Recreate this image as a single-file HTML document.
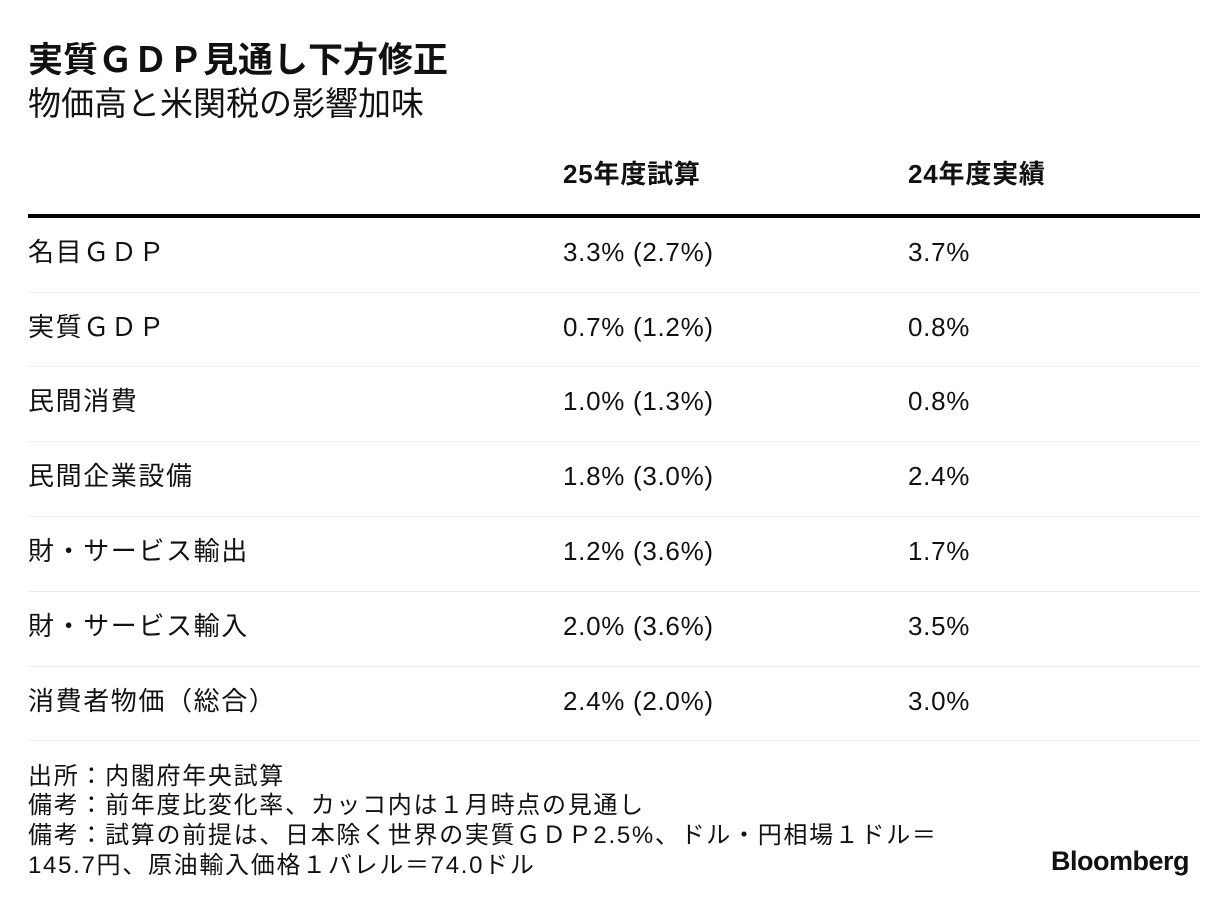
<!DOCTYPE html>
<html><head><meta charset="utf-8"><style>
body{margin:0;width:1229px;height:908px;background:#fff;position:relative;overflow:hidden;font-family:"Liberation Sans","Noto Sans CJK JP",sans-serif;color:#111}
div{position:absolute;white-space:nowrap;line-height:1}
.r{font-size:26px;letter-spacing:0.7px}
.l{letter-spacing:1.6px}
.sep{left:28px;width:1172px;height:1px;background:#eeeeee}
.f{font-size:24px;left:28px;letter-spacing:1.7px}
</style></head><body>
<div style="left:28px;top:43px;font-size:35px;font-weight:bold">実質ＧＤＰ見通し下方修正</div>
<div style="left:28px;top:87px;font-size:33px">物価高と米関税の影響加味</div>
<div style="left:563px;top:161px;font-size:26px;font-weight:bold;letter-spacing:0.8px">25年度試算</div>
<div style="left:908px;top:161px;font-size:26px;font-weight:bold;letter-spacing:0.8px">24年度実績</div>
<div style="left:28px;top:214px;width:1172px;height:4px;background:#000"></div>

<div class="r l" style="left:28px;top:239px">名目ＧＤＰ</div><div class="r" style="left:563px;top:239px">3.3% (2.7%)</div><div class="r" style="left:908px;top:239px">3.7%</div>
<div class="sep" style="top:292px"></div>
<div class="r l" style="left:28px;top:314px">実質ＧＤＰ</div><div class="r" style="left:563px;top:314px">0.7% (1.2%)</div><div class="r" style="left:908px;top:314px">0.8%</div>
<div class="sep" style="top:366px"></div>
<div class="r l" style="left:28px;top:388px">民間消費</div><div class="r" style="left:563px;top:388px">1.0% (1.3%)</div><div class="r" style="left:908px;top:388px">0.8%</div>
<div class="sep" style="top:441px"></div>
<div class="r l" style="left:28px;top:463px">民間企業設備</div><div class="r" style="left:563px;top:463px">1.8% (3.0%)</div><div class="r" style="left:908px;top:463px">2.4%</div>
<div class="sep" style="top:516px"></div>
<div class="r l" style="left:28px;top:538px">財・サービス輸出</div><div class="r" style="left:563px;top:538px">1.2% (3.6%)</div><div class="r" style="left:908px;top:538px">1.7%</div>
<div class="sep" style="top:591px"></div>
<div class="r l" style="left:28px;top:613px">財・サービス輸入</div><div class="r" style="left:563px;top:613px">2.0% (3.6%)</div><div class="r" style="left:908px;top:613px">3.5%</div>
<div class="sep" style="top:666px"></div>
<div class="r l" style="left:28px;top:688px">消費者物価（総合）</div><div class="r" style="left:563px;top:688px">2.4% (2.0%)</div><div class="r" style="left:908px;top:688px">3.0%</div>
<div class="sep" style="top:740px"></div>

<div class="f" style="top:765px">出所：内閣府年央試算</div>
<div class="f" style="top:794px">備考：前年度比変化率、カッコ内は１月時点の見通し</div>
<div class="f" style="top:824px">備考：試算の前提は、日本除く世界の実質ＧＤＰ2.5%、ドル・円相場１ドル＝</div>
<div class="f" style="top:854px">145.7円、原油輸入価格１バレル＝74.0ドル</div>
<div style="left:1051px;top:848px;font-size:27px;font-weight:bold;letter-spacing:-0.5px">Bloomberg</div>
</body></html>
